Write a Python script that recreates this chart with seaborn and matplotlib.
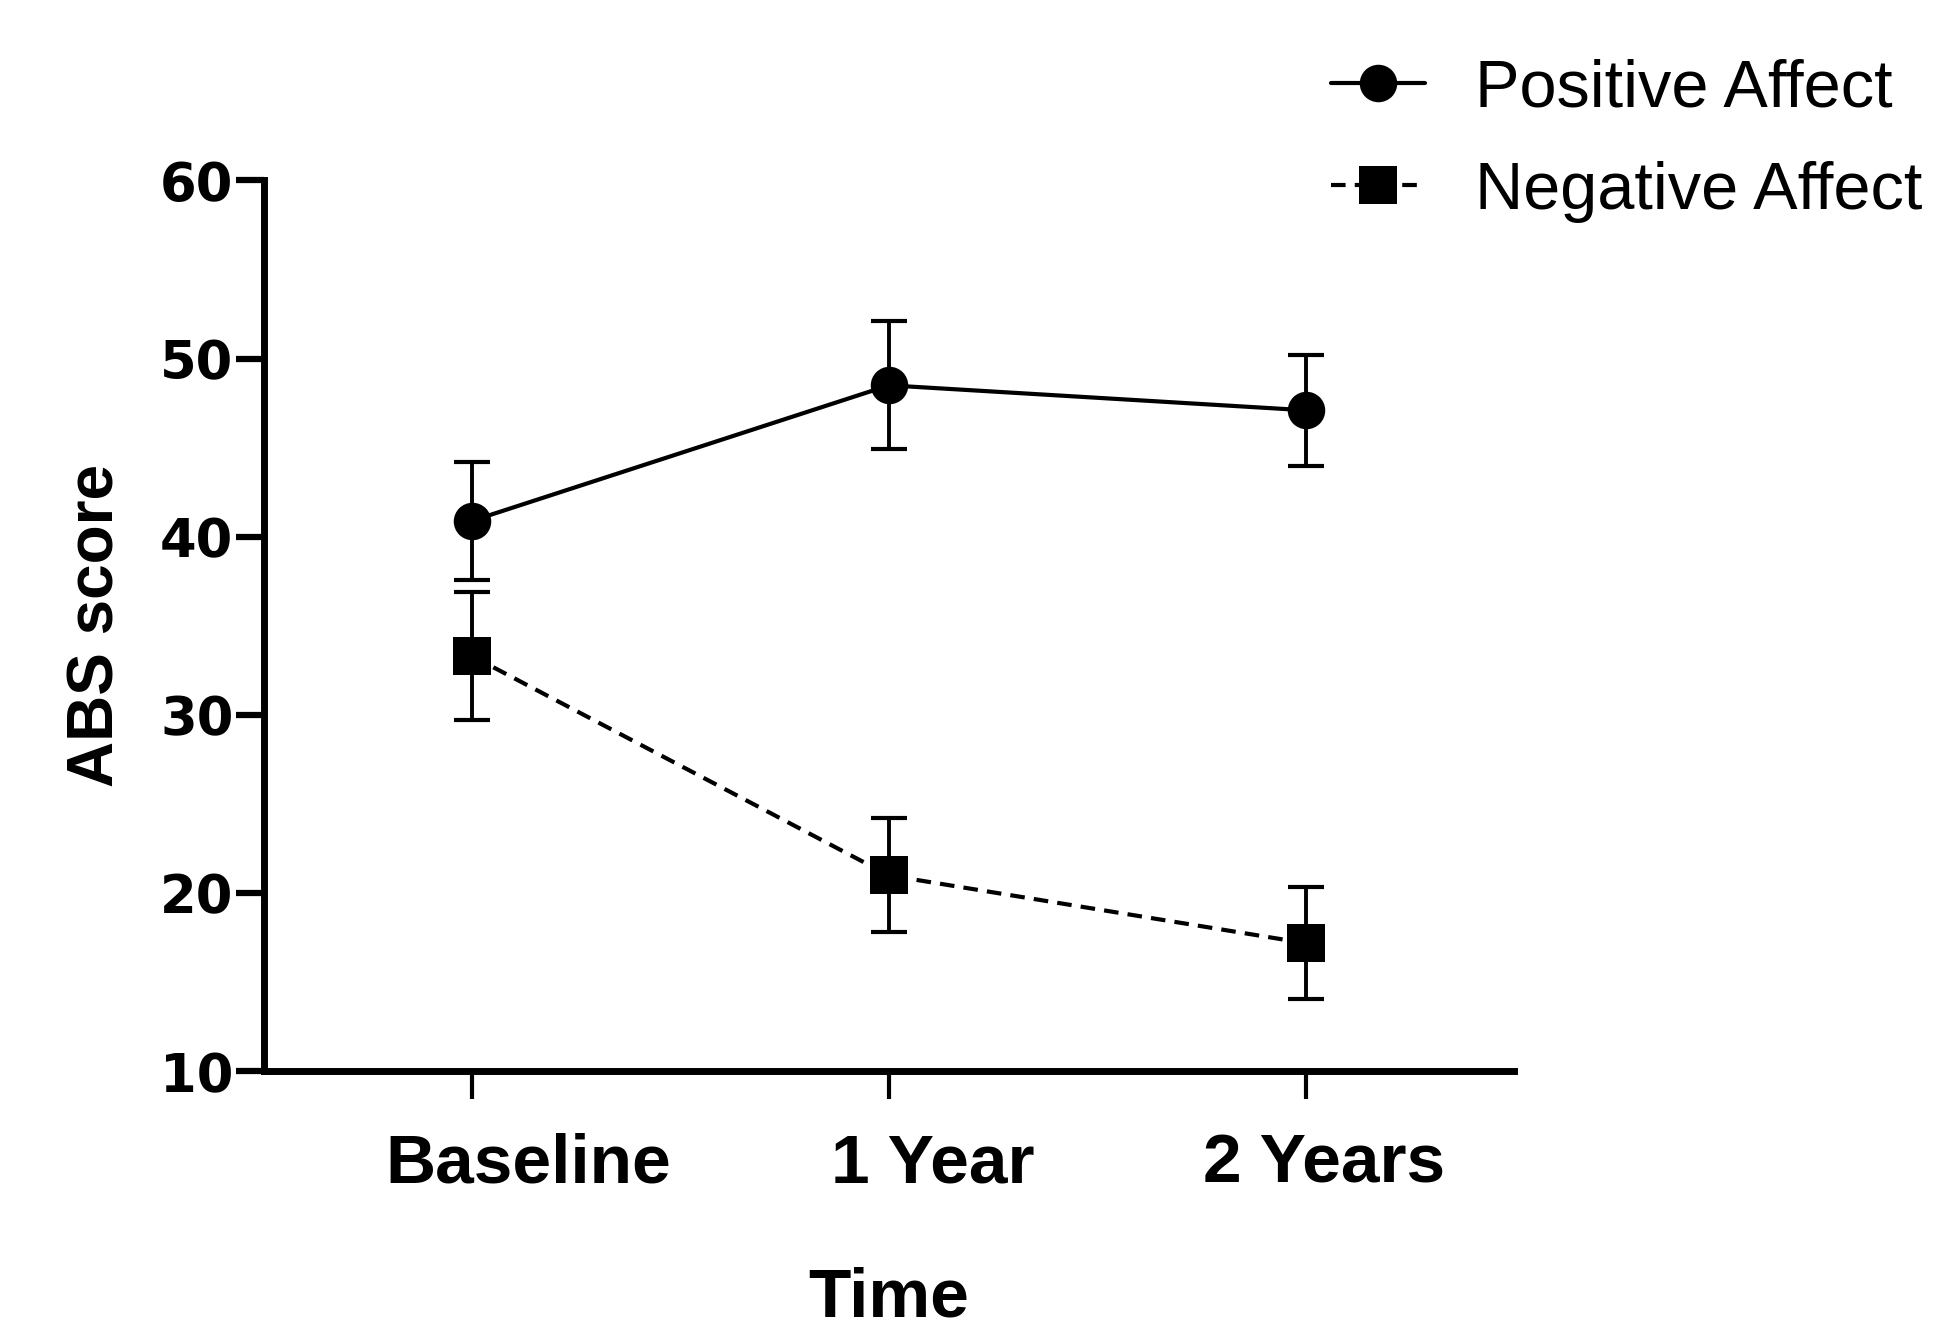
"""
ABS score over time: positive vs negative affect, mean with error bars
"""
import pandas as pd
import matplotlib
import matplotlib.pyplot as plt
import matplotlib.font_manager as fm
import matplotlib.transforms as mtransforms
import seaborn as sns

matplotlib.use("Agg")

# data
time_points = ["Baseline", "1 Year", "2 Years"]
positive_mean = [40.9, 48.5, 47.1]
positive_err = [3.3, 3.6, 3.1]
negative_mean = [33.3, 21.0, 17.2]
negative_err = [3.6, 3.2, 3.15]
series_names = ["Positive Affect", "Negative Affect"]

df = pd.DataFrame({
    "time": time_points * 2,
    "score": positive_mean + negative_mean,
    "err": positive_err + negative_err,
    "affect": [series_names[0]] * 3 + [series_names[1]] * 3,
})

sns.set_style("ticks")
plt.rcParams["font.family"] = ["Liberation Sans", "DejaVu Sans"]
for key in ["text.color", "axes.labelcolor", "xtick.color", "ytick.color", "axes.edgecolor"]:
    plt.rcParams[key] = "black"

fig = plt.figure(figsize=(19.41, 13.36), dpi=100)
ax = fig.add_axes([0.136, 0.198, 0.644, 0.667])

sns.lineplot(
    data=df, x="time", y="score", hue="affect", style="affect",
    palette={series_names[0]: "black", series_names[1]: "black"},
    markers={series_names[0]: "o", series_names[1]: "s"},
    dashes={series_names[0]: "", series_names[1]: (3.5, 2.2)},
    linewidth=3, markersize=27, markeredgewidth=0,
    ax=ax, legend=True, zorder=3,
)
for name in series_names:
    sub = df[df["affect"] == name]
    ax.errorbar(sub["time"], sub["score"], yerr=sub["err"], fmt="none",
                ecolor="black", elinewidth=2.8, capsize=13, capthick=3,
                zorder=2)

ax.set_xlim(-0.5, 2.5)
ax.set_ylim(10, 60)
ax.set_yticks([10, 20, 30, 40, 50, 60])

sns.despine(ax=ax)
for side in ["left", "bottom"]:
    ax.spines[side].set_linewidth(5)
    ax.spines[side].set_color("black")
ax.tick_params(axis="both", length=20, color="black", labelcolor="black")
ax.tick_params(axis="x", width=3, pad=24, labelsize=50)
ax.tick_params(axis="y", width=4.5, pad=2, labelsize=38)
for lab in ax.get_yticklabels():
    lab.set_fontweight("bold")
    lab.set_family(["DejaVu Sans"])
# tick labels sit slightly right of the ticks in the original
offsets = [56, 44, 18]
for lab, dx in zip(ax.get_xticklabels(), offsets):
    lab.set_fontweight("bold")
    lab.set_transform(lab.get_transform() + mtransforms.ScaledTranslation(dx / 100, 0, fig.dpi_scale_trans))

ax.set_xlabel("Time", fontsize=50, fontweight="bold", labelpad=50)
ax.set_ylabel("ABS score", fontsize=46, fontweight="bold", labelpad=24)

handles, labels = ax.get_legend_handles_labels()
leg = ax.legend(handles, labels, loc="upper left", bbox_to_anchor=(0.655, 1.001),
                bbox_transform=fig.transFigure, frameon=False, fontsize=48,
                handlelength=1.4, handletextpad=0.75, labelspacing=0.6)
for h in leg.legend_handles:
    h.set_markersize(27)
    h.set_linewidth(3)

fig.savefig("out.png", dpi=100, facecolor="white")
